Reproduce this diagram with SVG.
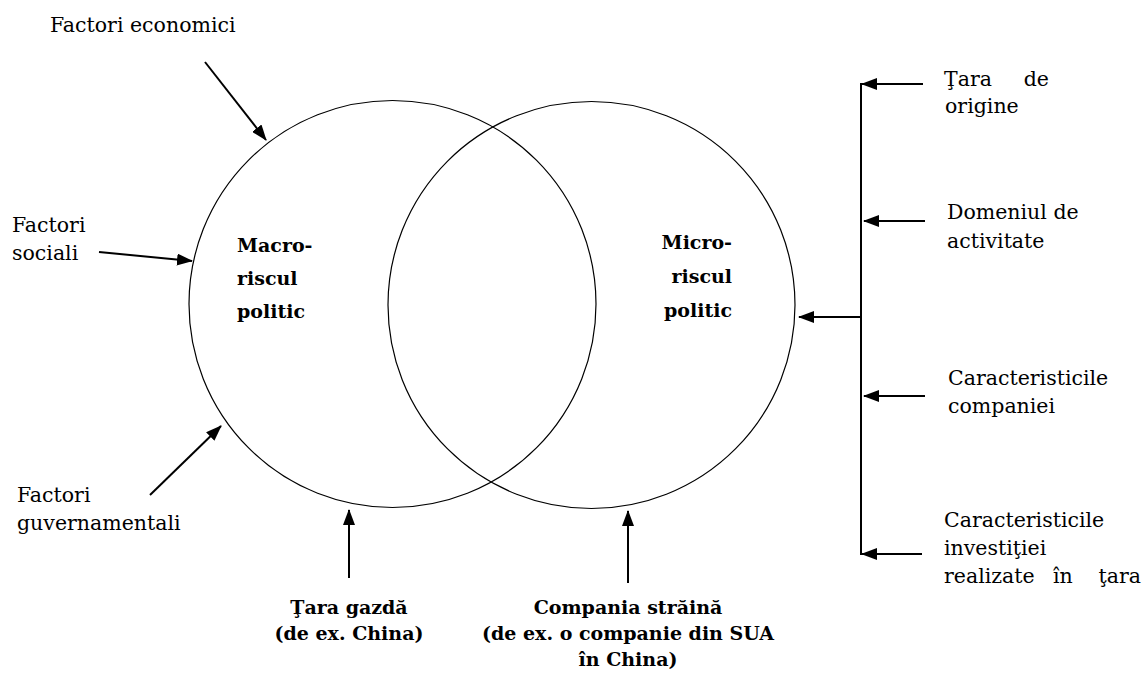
<svg xmlns="http://www.w3.org/2000/svg" width="1143" height="677" viewBox="0 0 1143 677">
<style>
.t{font-family:"DejaVu Serif","Liberation Serif",serif;font-size:20.5px;fill:#000}
.b{font-family:"DejaVu Serif","Liberation Serif",serif;font-size:19px;font-weight:bold;fill:#000}
.c{fill:none;stroke:#000;stroke-width:1.2}
.a{fill:none;stroke:#000;stroke-width:2;marker-end:url(#ah)}
.l{fill:none;stroke:#000;stroke-width:2}
</style>
<defs>
<marker id="ah" markerWidth="16" markerHeight="12" refX="15" refY="6" orient="auto" markerUnits="userSpaceOnUse">
<path d="M0,0 L16,6 L0,12 Z" fill="#000"/>
</marker>
</defs>
<rect width="1143" height="677" fill="#fff"/>
<g id="macro">
<circle class="c" cx="392.5" cy="304" r="203.5"/>
<text class="b" x="237" y="252">Macro-</text>
<text class="b" x="237" y="285">riscul</text>
<text class="b" x="237" y="318">politic</text>
</g>
<g id="micro">
<circle class="c" cx="591.5" cy="305" r="203.5" stroke="#333"/>
<text class="b" x="732" y="249" text-anchor="end">Micro-</text>
<text class="b" x="732" y="283" text-anchor="end">riscul</text>
<text class="b" x="732" y="317" text-anchor="end">politic</text>
</g>
<g id="f-economici"><text class="t" x="50" y="32">Factori economici</text></g>
<g id="f-sociali"><text class="t" x="12" y="232">Factori</text><text class="t" x="12" y="260">sociali</text></g>
<g id="f-guvern"><text class="t" x="17" y="502">Factori</text><text class="t" x="17" y="530">guvernamentali</text></g>
<g id="tara-gazda">
<text class="b" x="349" y="614" text-anchor="middle">Ţara gazdă</text>
<text class="b" x="349" y="640" text-anchor="middle">(de ex. China)</text>
</g>
<g id="compania">
<text class="b" x="628" y="614" text-anchor="middle">Compania străină</text>
<text class="b" x="628" y="640" text-anchor="middle">(de ex. o companie din SUA</text>
<text class="b" x="628" y="666" text-anchor="middle">în China)</text>
</g>
<g id="tara-origine"><text class="t" x="944" y="86">Ţara</text><text class="t" x="1049" y="86" text-anchor="end">de</text><text class="t" x="945" y="113">origine</text></g>
<g id="domeniu"><text class="t" x="947" y="219">Domeniul de</text><text class="t" x="947" y="248">activitate</text></g>
<g id="caract-comp"><text class="t" x="948" y="385">Caracteristicile</text><text class="t" x="948" y="413">companiei</text></g>
<g id="caract-inv"><text class="t" x="944" y="527">Caracteristicile</text><text class="t" x="944" y="555">investiţiei</text><text class="t" x="944" y="583">realizate</text><text class="t" x="1053" y="583">în</text><text class="t" x="1141" y="583" text-anchor="end">ţara</text></g>
<g id="connectors">
<line class="a" x1="205" y1="62" x2="266" y2="140"/>
<line class="a" x1="99" y1="252" x2="192" y2="261"/>
<line class="a" x1="150" y1="495" x2="221" y2="426"/>
<line class="a" x1="349" y1="578" x2="349" y2="510"/>
<line class="a" x1="628" y1="583" x2="628" y2="511"/>
<line class="l" x1="861" y1="83" x2="861" y2="555"/>
<line class="a" x1="923" y1="84" x2="862" y2="84"/>
<line class="a" x1="925" y1="221" x2="864" y2="221"/>
<line class="a" x1="925" y1="396" x2="864" y2="396"/>
<line class="a" x1="922" y1="554" x2="862" y2="554"/>
<line class="a" x1="861" y1="317" x2="799" y2="317"/>
</g>
</svg>
